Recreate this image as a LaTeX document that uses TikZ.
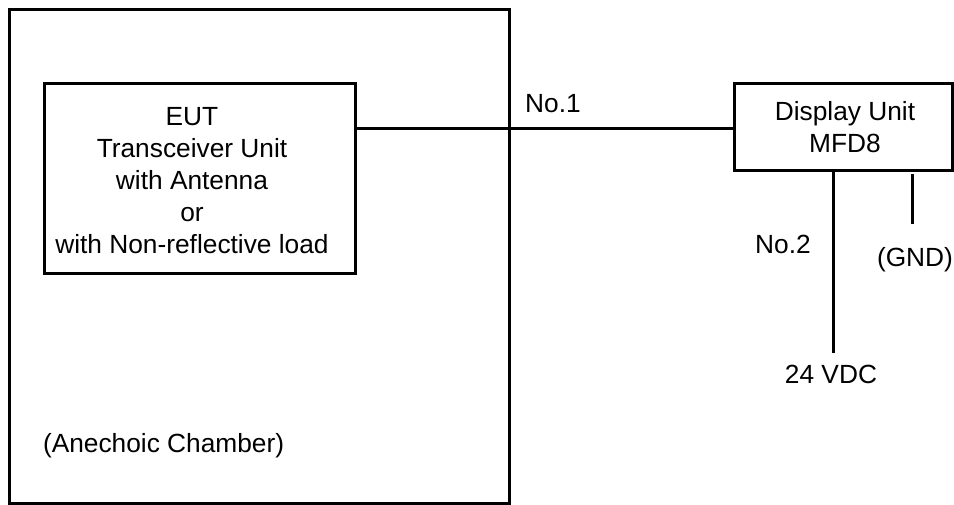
\documentclass[tikz,border=0pt]{standalone}
\usepackage{fontspec}
\setmainfont{Liberation Sans}
\begin{document}
\begin{tikzpicture}[x=1pt,y=-1pt,
  box/.style={draw,line width=3pt,rectangle,inner sep=0pt,outer sep=0pt},
  lbl/.style={anchor=base,inner sep=0pt,outer sep=0pt,font=\fontsize{26.3pt}{32pt}\selectfont},
  wire/.style={line width=3pt}]
\useasboundingbox (0,0) rectangle (954,505);
% boxes
\node[box,minimum width=500pt,minimum height=494pt] (chamber) at (259,256.5) {};
\node[box,minimum width=310.5pt,minimum height=190pt] (eut) at (199.75,178.5) {};
\node[box,minimum width=218pt,minimum height=87.5pt] (disp) at (843,127.25) {};
% texts
\node[lbl] (t1) at (192,126) {EUT};
\node[lbl] (t2) at (192,158) {Transceiver Unit};
\node[lbl] (t3) at (192,190) {with Antenna};
\node[lbl] (t4) at (192,222) {or};
\node[lbl] (t5) at (192,254) {with Non-reflective load};
\node[lbl] (d1) at (845,121) {Display Unit};
\node[lbl] (d2) at (845,153) {MFD8};
\node[lbl] (no1) at (553,113) {No.1};
\node[lbl] (no2) at (783,254) {No.2};
\node[lbl] (gndl) at (915,267) {(GND)};
\node[lbl] (vdcl) at (831,383) {24 VDC};
\node[lbl,anchor=base west] (anech) at (43,452) {(Anechoic Chamber)};
% connectors
\coordinate (vdc) at (833.5,353);
\coordinate (gnd) at (912,224);
\coordinate (gndtop) at (912,174);
\draw[wire] (eut.east |- 0,129) -- (disp.west |- 0,129);
\draw[wire] (disp.south -| vdc) -- (vdc);
\draw[wire] (gndtop) -- (gnd);
\end{tikzpicture}
\end{document}
